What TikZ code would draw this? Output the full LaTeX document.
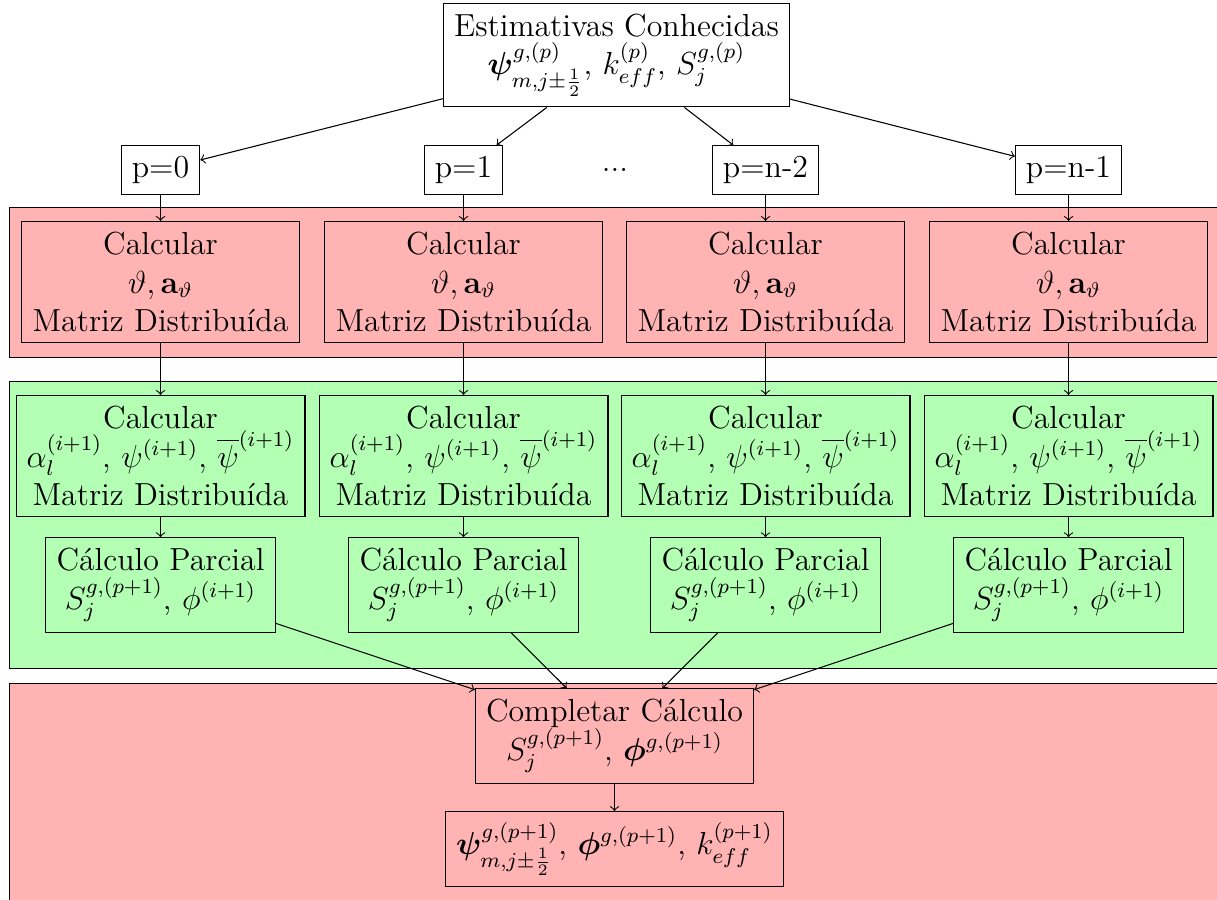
\documentclass[12pt,tikz,border=0pt]{standalone}
\usepackage{amsmath,bm}
\definecolor{bandred}{RGB}{255,179,179}
\definecolor{bandgreen}{RGB}{179,255,179}
\begin{document}
\begin{tikzpicture}[x=0.376pt,y=-0.376pt,
  box/.style={draw, align=center, fill=white},
  redbox/.style={box, fill=bandred},
  greenbox/.style={box, fill=bandgreen},
  band/.style={draw},
  conn/.style={->}]
\useasboundingbox (0,0) rectangle (1217,899);
% bands
\draw[band, fill=bandred] (9.5,207.5) rectangle (1240,357.5);
\draw[band, fill=bandgreen] (9.5,381.5) rectangle (1240,668.5);
\draw[band, fill=bandred] (9.5,683.5) rectangle (1240,930);
% top
\node[box] (top) at (616.5,55) {Estimativas Conhecidas\\
 $\bm{\psi}^{g,(p)}_{m,j\pm\frac{1}{2}}$, $k^{(p)}_{eff}$, $S^{g,(p)}_j$};
% p nodes
\node[box] (p0) at (160.5,170) {p=0};
\node[box] (p1) at (463.5,170) {p=1};
\node (dots) at (615,170) {...};
\node[box] (p2) at (765.5,170) {p=n-2};
\node[box] (p3) at (1068.5,170) {p=n-1};
% per-column boxes
\foreach \i/\x in {0/160.5,1/463.5,2/765.5,3/1068.5}{
  \node[redbox] (c\i) at (\x,282) {Calcular\\ $\vartheta, \mathbf{a}_\vartheta$\\ Matriz Distribuída};
  \node[greenbox] (a\i) at (\x,456) {Calcular\\ $\alpha_l^{(i+1)}$, $\psi^{(i+1)}$, $\overline{\psi}^{(i+1)}$\\ Matriz Distribuída};
  \node[greenbox] (s\i) at (\x,585) {Cálculo Parcial\\ $S_j^{g,(p+1)}$, $\phi^{(i+1)}$};
}
% bottom
\node[redbox] (comp) at (614.5,736) {Completar Cálculo\\ $S_j^{g,(p+1)}$, $\bm{\phi}^{g,(p+1)}$};
\node[redbox] (fin) at (614.5,849) {$\bm{\psi}^{g,(p+1)}_{m,j\pm\frac{1}{2}}$, $\bm{\phi}^{g,(p+1)}$, $k^{(p+1)}_{eff}$};
% connectors
\foreach \p in {p0,p1,p2,p3}{\draw[conn] (top) -- (\p);}
\draw[conn] (p0) -- (c0);
\draw[conn] (p1) -- (c1);
\draw[conn] (p2) -- (c2);
\draw[conn] (p3) -- (c3);
\foreach \i in {0,1,2,3}{
  \draw[conn] (c\i) -- (a\i);
  \draw[conn] (a\i) -- (s\i);
  \draw[conn] (s\i) -- (comp);
}
\draw[conn] (comp) -- (fin);
\end{tikzpicture}
\end{document}
